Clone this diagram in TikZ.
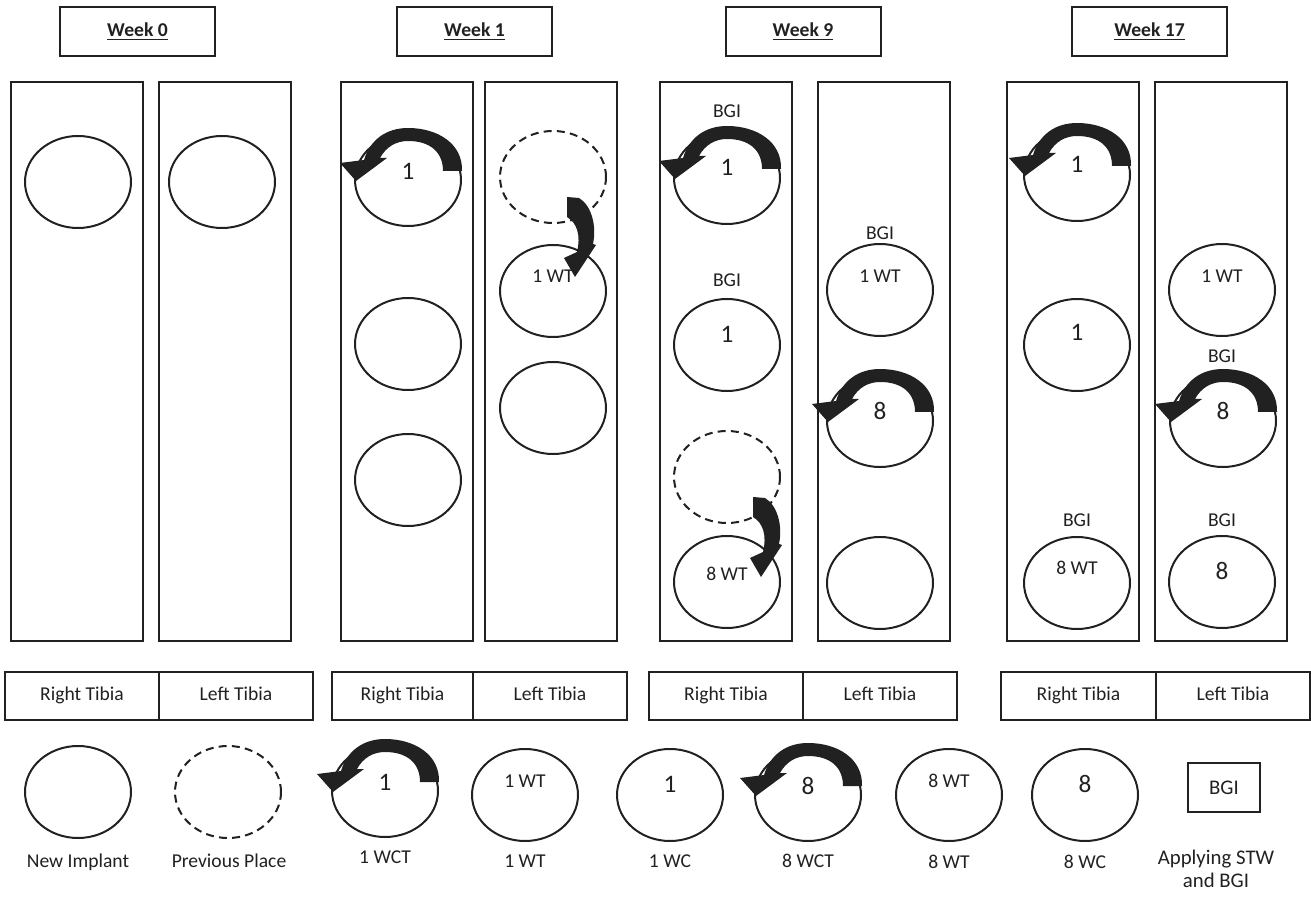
\documentclass[tikz,border=0pt]{standalone}
\usepackage{fontspec}
\setmainfont{Carlito}
\usetikzlibrary{shapes.geometric,calc}
\definecolor{ink}{gray}{0.13}
\newcommand\rotarrow[1]{\fill[ink, shift={(#1)}] (54,-9) .. controls (55,-36) and (30,-52) .. (0,-52) .. controls (-22,-52) and (-38,-40) .. (-44,-20) -- (-68,-17) -- (-52,1) -- (-21,-22) -- (-28,-22) .. controls (-22,-33) and (-12,-39) .. (0,-39) .. controls (22,-39) and (35,-28) .. (35,-9) -- cycle;}
\newcommand\hookarrow[1]{\fill[ink, shift={(#1)}] (14,20) -- (26,21) .. controls (38,28) and (44,48) .. (40,67) -- (43,68) -- (22,100) -- (11,81) -- (24,75) .. controls (28,58) and (24,46) .. (14,40) -- cycle;}
\begin{document}
\begin{tikzpicture}[x=0.5pt,y=-0.5pt, line width=1pt, draw=ink,
  ell/.style={draw=ink, ellipse, minimum width=53pt, minimum height=46pt, inner sep=0pt},
  dell/.style={ell, dash pattern=on 4pt off 2.6pt},
  num/.style={font=\fontsize{12.6}{14}\selectfont, text=ink, inner sep=0pt, text height=0.72em, text depth=0pt},
  sm/.style={font=\fontsize{9.8}{12}\selectfont, text=ink, inner sep=0pt, text height=0.72em, text depth=0.2em},
  wk/.style={draw=ink, minimum width=77.5pt, minimum height=24.5pt, font=\fontsize{9.8}{12}\bfseries\selectfont, text=ink},
  col/.style={draw=ink, minimum width=66pt, minimum height=279.5pt, inner sep=0pt},
  tib/.style={draw=ink, minimum height=24pt, inner sep=0pt, text height=0.72em, text depth=0.2em, font=\fontsize{9.8}{12}\selectfont, text=ink}]
\useasboundingbox (0,0) rectangle (1311,897);

% week titles
\node[wk] (w0) at (137.5,31.5) {\underline{Week 0}};
\node[wk] (w1) at (474.5,31.5) {\underline{Week 1}};
\node[wk] (w9) at (803,31.5) {\underline{Week 9}};
\node[wk] (w17) at (1149.5,31.5) {\underline{Week 17}};

% columns
\foreach \n/\x in {c0r/77,c0l/225,c1r/407,c1l/551,c9r/726,c9l/884,c17r/1073,c17l/1221}
  \node[col] (\n) at (\x,361.5) {};

% tibia boxes
\foreach \n/\a/\b in {0/5/159,1/332/473,9/649/803,17/1001/1156}
  \node[tib, minimum width={(\b-\a)*0.5pt}] (t\n r) at ({(\a+\b)/2},695.5) {Right Tibia};
\foreach \n/\a/\b in {0/159/313,1/473/627,9/803/957,17/1156/1310}
  \node[tib, minimum width={(\b-\a)*0.5pt}] (t\n l) at ({(\a+\b)/2},695.5) {Left Tibia};

% week 0
\node[ell] (a1) at (78,182) {};
\node[ell] (a2) at (222,182) {};

% week 1
\node[ell] (b1) at (408,180) {};
\rotarrow{b1.center}
\node[num] (b1t) at (408,172) {1};
\node[ell] (b2) at (408,344) {};
\node[ell] (b3) at (408,480) {};
\node[dell] (b4) at (553,177) {};
\node[ell] (b5) at (553,291) {};
\node[sm] (b5t) at (553,277) {1 WT};
\node[ell] (b6) at (553,408) {};
\hookarrow{b4.center}

% week 9
\node[ell] (c1) at (727,178) {};
\rotarrow{c1.center}
\node[num] (c1t) at (727,168) {1};
\node[sm] (c1g) at (727,112) {BGI};
\node[ell] (c2) at (727,345) {};
\node[num] (c2t) at (727,335) {1};
\node[sm] (c2g) at (727,281) {BGI};
\node[dell] (c3) at (727,477) {};
\node[ell] (c4) at (727,582) {};
\node[sm] (c4t) at (727,575) {8 WT};
\coordinate (c3h) at (739,477);
\hookarrow{c3h}
\node[ell] (c5) at (880,290) {};
\node[sm] (c5t) at (880,277) {1 WT};
\node[sm] (c5g) at (880,234) {BGI};
\node[ell] (c6) at (880,421) {};
\rotarrow{c6.center}
\node[num] (c6t) at (880,412) {8};
\node[ell] (c7) at (880,583) {};

% week 17
\node[ell] (d1) at (1077,175) {};
\rotarrow{d1.center}
\node[num] (d1t) at (1077,165) {1};
\node[ell] (d2) at (1077,345) {};
\node[num] (d2t) at (1077,333) {1};
\node[ell] (d3) at (1077,583) {};
\node[sm] (d3t) at (1077,569) {8 WT};
\node[sm] (d3g) at (1077,521) {BGI};
\node[ell] (d4) at (1222,290) {};
\node[sm] (d4t) at (1222,277) {1 WT};
\node[ell] (d5) at (1223,421) {};
\rotarrow{d5.center}
\node[num] (d5t) at (1223,412) {8};
\node[sm] (d5g) at (1222,357) {BGI};
\node[ell] (d6) at (1222,582) {};
\node[num] (d6t) at (1222,572) {8};
\node[sm] (d6g) at (1222,521) {BGI};

% legend
\node[ell] (l1) at (78,792) {};
\node[sm] (l1t) at (78,862) {New Implant};
\node[dell] (l2) at (228,792) {};
\node[sm] (l2t) at (229,862) {Previous Place};
\node[ell] (l3) at (385,791) {};
\rotarrow{l3.center}
\node[num] (l3n) at (385,783) {1};
\node[sm] (l3t) at (385,858) {1 WCT};
\node[ell] (l4) at (525,795) {};
\node[sm] (l4n) at (525,782) {1 WT};
\node[sm] (l4t) at (525,862) {1 WT};
\node[ell] (l5) at (670,795) {};
\node[num] (l5n) at (670,785) {1};
\node[sm] (l5t) at (670,862) {1 WC};
\node[ell] (l6) at (808,795) {};
\rotarrow{l6.center}
\node[num] (l6n) at (808,787) {8};
\node[sm] (l6t) at (808,862) {8 WCT};
\node[ell] (l7) at (949,795) {};
\node[sm] (l7n) at (949,782) {8 WT};
\node[sm] (l7t) at (949,863) {8 WT};
\node[ell] (l8) at (1085,795) {};
\node[num] (l8n) at (1085,785) {8};
\node[sm] (l8t) at (1085,863) {8 WC};
\node[draw=ink, minimum width=36pt, minimum height=24.5pt, inner sep=0pt, text=ink, font=\fontsize{10.4}{12}\selectfont] (l9) at (1224,787.5) {BGI};
\node[text=ink, inner sep=0pt, align=center, font=\fontsize{10.4}{11.5}\selectfont] (l9t) at (1216,869) {Applying STW\\and BGI};
\end{tikzpicture}
\end{document}
